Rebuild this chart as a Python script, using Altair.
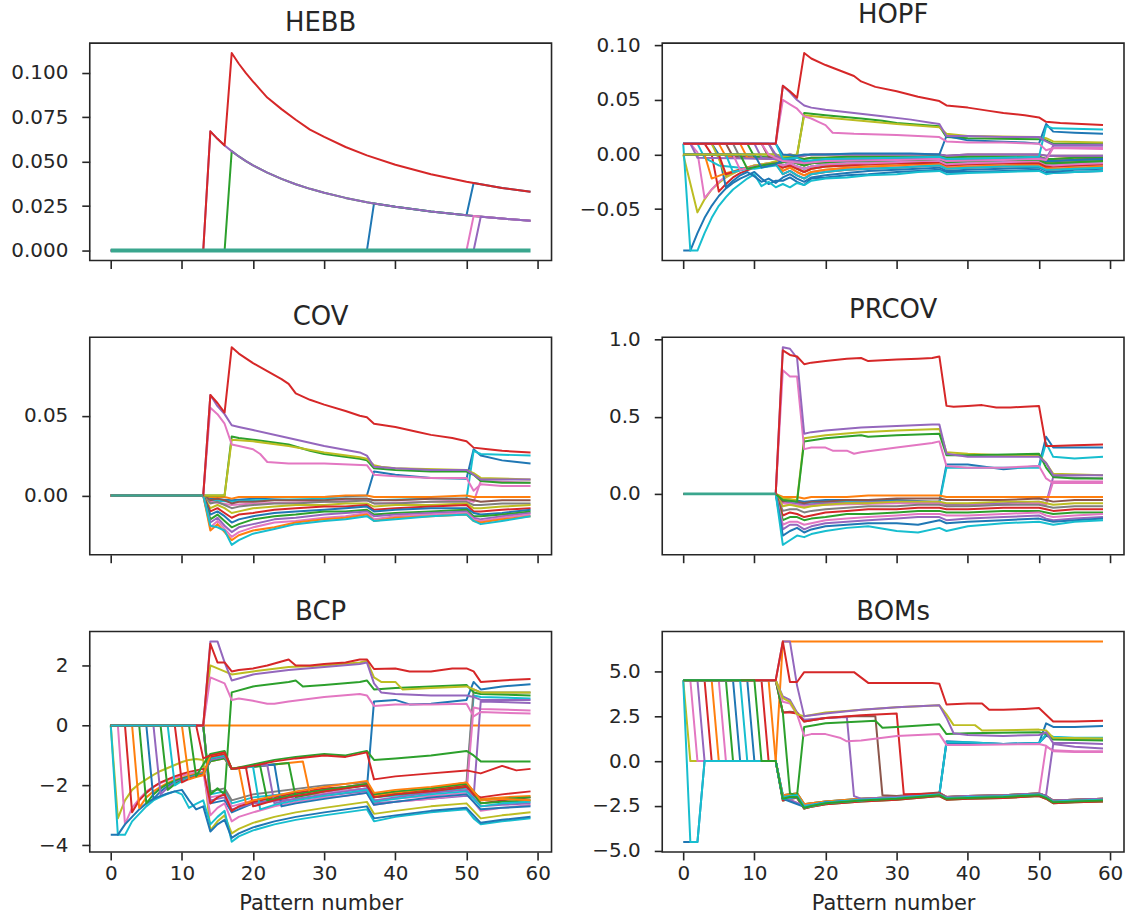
import altair as alt
import pandas as pd

# matplotlib "tab10" cycle
C0, C1, C2, C3, C4 = "#1f77b4", "#ff7f0e", "#2ca02c", "#d62728", "#9467bd"
C5, C6, C7, C8, C9 = "#8c564b", "#e377c2", "#7f7f7f", "#bcbd22", "#17becf"
TEAL = "#3aa68e"
LW = 2.0

XTICKS = [0, 10, 20, 30, 40, 50, 60]
ALL_STEPS = list(range(14))  # pattern 0..13

# ---------------------------------------------------------------- HEBB
HEBB = [
    (C0, [0, 36, 37, 40, 45, 50, 51, 55, 59],
         [0, 0, 0.0265, 0.0246, 0.0219, 0.0198, 0.0380, 0.0352, 0.0330]),
    (C2, [0, 16, 17, 18, 19, 20, 22, 24, 26, 28, 30, 33, 36, 37, 40, 45, 50, 51, 55, 59],
         [0, 0, 0.0559, 0.0529, 0.0503, 0.0479, 0.0438, 0.0403, 0.0373, 0.0347, 0.0325,
          0.0296, 0.0272, 0.0265, 0.0246, 0.0219, 0.0198, 0.0194, 0.0180, 0.0168]),
    (C4, [0, 13, 14, 15, 16, 17, 18, 19, 20, 22, 24, 26, 28, 30, 33, 36, 37, 40, 45, 50, 51, 55, 59],
         [0, 0, 0.067, 0.0628, 0.0591, 0.0559, 0.0529, 0.0503, 0.0479, 0.0438, 0.0403, 0.0373,
          0.0347, 0.0325, 0.0296, 0.0272, 0.0265, 0.0246, 0.0219, 0.0198, 0.0194, 0.0180, 0.0168]),
    (C3, [0, 13, 14, 15, 16, 17, 18, 19, 20, 21, 22, 24, 26, 28, 30, 33, 36, 40, 45, 50, 55, 59],
         [0, 0, 0.067, 0.0628, 0.0591, 0.111, 0.105, 0.0997, 0.095, 0.0905, 0.086, 0.0795,
          0.0735, 0.068, 0.0639, 0.0582, 0.0535, 0.0482, 0.0429, 0.0387, 0.0352, 0.0330]),
    (C6, [0, 50, 51, 55, 59], [0, 0, 0.0194, 0.0180, 0.0168]),
    (C4, [0, 51, 52, 55, 59], [0, 0, 0.0190, 0.0180, 0.0168]),
    (TEAL, [0, 59], [0, 0], 4.0),
]

# ---------------------------------------------------------------- HOPF
HOPF_TX = [14, 15, 16, 17, 18, 20, 23, 26, 30, 33, 36, 37, 40, 45, 50, 51, 52, 55, 59]
HOPF_N1 = [-0.001, 0.0, -0.001, -0.001, 0.0, 0.0, 0.0, 0.0, 0.0, 0.0, 0.0, -0.001, 0.0, 0.0, 0.0, -0.001, -0.001, -0.001, -0.001]
HOPF_N2 = [-0.003, -0.002, -0.003, -0.004, -0.003, -0.003, -0.002, -0.002, -0.002, -0.002, -0.001, -0.003, -0.002, -0.002, -0.002, -0.004, -0.004, -0.003, -0.003]
HOPF_N3 = [-0.005, -0.004, -0.006, -0.007, -0.006, -0.005, -0.004, -0.004, -0.004, -0.003, -0.003, -0.005, -0.004, -0.004, -0.003, -0.006, -0.006, -0.005, -0.004]
HOPF_N4 = [-0.007, -0.006, -0.008, -0.010, -0.008, -0.007, -0.006, -0.006, -0.005, -0.005, -0.004, -0.007, -0.006, -0.005, -0.005, -0.008, -0.008, -0.007, -0.006]
HOPF_N5 = [-0.010, -0.008, -0.011, -0.013, -0.011, -0.009, -0.008, -0.008, -0.007, -0.006, -0.006, -0.009, -0.008, -0.007, -0.006, -0.009, -0.010, -0.009, -0.008]
HOPF_N6 = [-0.012, -0.010, -0.013, -0.016, -0.013, -0.011, -0.010, -0.009, -0.008, -0.008, -0.007, -0.010, -0.009, -0.008, -0.008, -0.011, -0.011, -0.010, -0.009]
HOPF_N7 = [-0.015, -0.012, -0.016, -0.019, -0.016, -0.014, -0.012, -0.011, -0.010, -0.009, -0.009, -0.012, -0.011, -0.010, -0.009, -0.012, -0.013, -0.012, -0.011]
HOPF_N8 = [-0.018, -0.015, -0.019, -0.022, -0.018, -0.016, -0.014, -0.013, -0.012, -0.011, -0.010, -0.013, -0.012, -0.011, -0.011, -0.014, -0.014, -0.013, -0.012]
HOPF_N9 = [-0.021, -0.018, -0.022, -0.025, -0.021, -0.019, -0.017, -0.015, -0.014, -0.013, -0.012, -0.015, -0.014, -0.013, -0.012, -0.015, -0.016, -0.014, -0.013]
HOPF_N10 = [-0.024, -0.021, -0.025, -0.028, -0.022, -0.021, -0.019, -0.018, -0.016, -0.015, -0.014, -0.016, -0.016, -0.015, -0.014, -0.017, -0.017, -0.016, -0.015]
HOPF_N11 = [-0.027, -0.030, -0.026, -0.028, -0.024, -0.022, -0.021, -0.019, -0.018, -0.016, -0.015, -0.018, -0.017, -0.016, -0.015, -0.018, -0.017, -0.016, -0.015]

HOPF = [
    (C0, ALL_STEPS + HOPF_TX,
         [-0.088, -0.088, -0.072, -0.058, -0.047, -0.038, -0.031, -0.026, -0.022, -0.019, -0.016, -0.022, -0.027, -0.024] + HOPF_N10),
    (C1, [0, 5, 6, 13] + HOPF_TX, [0.01, 0.01, -0.002, -0.004] + HOPF_N2),
    (C2, [0, 13, 14, 16, 17, 20, 25, 28, 30, 36, 37, 40, 50, 51, 52, 59],
         [0, 0, -0.002, -0.001, 0.038, 0.036, 0.033, 0.031, 0.029, 0.026, 0.016, 0.015, 0.014, 0.013, 0.010, 0.010]),
    (C5, [0, 6, 7, 13] + HOPF_TX, [0.01, 0.01, -0.002, -0.003] + HOPF_N1),
    (C8, [0, 2, 3, 4, 5, 6, 8, 10, 12, 13] + HOPF_TX,
         [0.0, -0.053, -0.041, -0.032, -0.026, -0.021, -0.014, -0.010, -0.008, -0.007] + HOPF_N6),
    (C9, ALL_STEPS + HOPF_TX,
         [0.01, -0.088, -0.088, -0.072, -0.058, -0.047, -0.039, -0.032, -0.027, -0.022, -0.018, -0.029, -0.025, -0.030] + HOPF_N11),
    (C7, [0, 7, 8, 13] + HOPF_TX, [0.01, 0.01, -0.003, -0.004] + HOPF_N3),
    (C1, [0, 8, 9, 13] + HOPF_TX, [0.01, 0.01, -0.003, -0.004] + HOPF_N4),
    (C6, [0, 1, 2, 3, 4, 5, 6, 8, 10, 12, 13] + HOPF_TX,
         [0.01, 0.01, 0.002, -0.040, -0.032, -0.025, -0.020, -0.014, -0.010, -0.008, -0.008] + HOPF_N7),
    (C3, [0, 3, 4, 5, 6, 7, 8, 10, 12, 13] + HOPF_TX,
         [0.01, 0.01, 0.0, -0.034, -0.027, -0.021, -0.017, -0.012, -0.009, -0.008] + HOPF_N8),
    (C2, [0, 9, 10, 13] + HOPF_TX, [0.01, 0.01, -0.002, -0.003] + HOPF_N2),
    (C0, [0, 4, 5, 6, 7, 8, 9, 10, 11, 12, 13] + HOPF_TX,
         [0.01, 0.01, 0.0, -0.030, -0.024, -0.019, -0.016, -0.020, -0.025, -0.022, -0.026] + HOPF_N9),
    (C4, [0, 10, 11, 13] + HOPF_TX, [0.01, 0.01, -0.003, -0.004] + HOPF_N5),
    (C5, [0, 11, 12, 13] + HOPF_TX, [0.01, 0.01, -0.002, -0.003] + HOPF_N3),
    (C7, [0, 12, 13] + HOPF_TX, [0.01, 0.01, -0.002] + HOPF_N4),
    (C8, [0, 4, 5, 6, 8, 10, 12, 13] + HOPF_TX,
         [0.01, 0.01, -0.004, -0.020, -0.014, -0.010, -0.008, -0.006] + HOPF_N6),
    (C4, [0, 1, 2, 13] + HOPF_TX, [0.01, 0.01, -0.003, -0.004] + HOPF_N1),
    (C9, [0, 2, 3, 5, 8, 10, 13] + HOPF_TX, [0.01, 0.01, -0.003, -0.010, -0.012, -0.013, -0.010] + HOPF_N5),
    # units sitting at zero that turn negative one after another
    (C1, [0, 3, 4, 6, 9, 13] + HOPF_TX, [0, 0, -0.022, -0.017, -0.012, -0.009] + HOPF_N7),
    (C3, [0, 5, 6, 8, 10, 13] + HOPF_TX, [0, 0, -0.018, -0.014, -0.011, -0.008] + HOPF_N6),
    (C9, [0, 6, 7, 9, 11, 13] + HOPF_TX, [0, 0, -0.016, -0.013, -0.011, -0.009] + HOPF_N8),
    (C6, [0, 7, 8, 10, 13] + HOPF_TX, [0, 0, -0.014, -0.011, -0.008] + HOPF_N5),
    (C2, [0, 8, 9, 11, 13] + HOPF_TX, [0, 0, -0.013, -0.010, -0.008] + HOPF_N4),
    (C0, [0, 10, 11, 13] + HOPF_TX, [0, 0, -0.012, -0.009] + HOPF_N3),
    (C8, [0, 13, 14, 16, 17, 20, 25, 30, 36, 37, 40, 50, 51, 52, 59],
         [0, 0, -0.002, 0.0, 0.036, 0.034, 0.031, 0.028, 0.025, 0.019, 0.017, 0.016, 0.015, 0.012, 0.011]),
    (C0, [0, 13, 14, 16, 17, 20, 24, 28, 32, 36, 37, 40, 44, 48, 50, 51, 52, 55, 59],
         [0.01, 0.01, 0.0, -0.001, 0.0, 0.0, 0.001, 0.001, 0.001, 0.0, 0.017, 0.013, 0.012, 0.011, 0.010, 0.028, 0.021, 0.020, 0.019]),
    (C4, [0, 12, 13, 14, 17, 20, 30, 36, 37, 45, 50, 51, 52, 59],
         [0.01, 0.01, 0.0, -0.005, -0.007, -0.005, -0.004, -0.003, -0.005, -0.004, -0.003, -0.004, 0.008, 0.008]),
    (C6, [0, 11, 12, 14, 17, 20, 30, 36, 37, 45, 50, 51, 52, 59],
         [0.01, 0.01, 0.0, -0.006, -0.008, -0.006, -0.005, -0.004, -0.006, -0.005, -0.004, -0.005, 0.006, 0.005]),
    (C9, [0, 13, 14, 16, 17, 20, 30, 36, 37, 45, 50, 51, 52, 59],
         [0.01, 0.01, -0.004, -0.003, -0.006, -0.004, -0.003, -0.002, -0.004, -0.003, -0.002, 0.026, 0.024, 0.023]),
    (C6, [0, 13, 14, 15, 16, 17, 18, 19, 20, 21, 24, 30, 36, 37, 40, 45, 50, 51, 52, 59],
         [0.01, 0.01, 0.050, 0.046, 0.042, 0.035, 0.033, 0.030, 0.027, 0.020, 0.019, 0.018, 0.016, 0.012, 0.011, 0.011, 0.010, 0.004, 0.006, 0.006]),
    (C4, [0, 13, 14, 15, 16, 17, 18, 20, 24, 28, 32, 35, 36, 37, 40, 45, 50, 51, 52, 55, 59],
         [0.01, 0.01, 0.063, 0.057, 0.050, 0.045, 0.043, 0.041, 0.038, 0.035, 0.032, 0.029, 0.028, 0.017, 0.017, 0.016, 0.016, 0.012, 0.009, 0.009, 0.009]),
    (C3, [0, 13, 14, 15, 16, 17, 18, 20, 22, 24, 25, 27, 30, 33, 36, 37, 40, 43, 45, 48, 50, 51, 53, 56, 59],
         [0.01, 0.01, 0.063, 0.058, 0.052, 0.093, 0.088, 0.082, 0.077, 0.072, 0.067, 0.062, 0.058, 0.053, 0.049,
          0.045, 0.043, 0.040, 0.038, 0.036, 0.034, 0.030, 0.029, 0.028, 0.027]),
]

# ---------------------------------------------------------------- COV
COV_TX = [13, 14, 15, 16, 17, 18, 20, 23, 26, 30, 33, 36, 37, 40, 45, 50, 51, 52, 55, 59]
COV_N = [
    [0, -0.001, -0.001, -0.001, -0.002, -0.001, -0.001, -0.001, -0.001, -0.001, 0.0, 0.0, -0.001, -0.001, -0.001, 0.0, -0.001, -0.001, -0.001, -0.001],
    [0, -0.003, -0.002, -0.003, -0.005, -0.004, -0.004, -0.003, -0.003, -0.003, -0.002, -0.002, -0.003, -0.003, -0.002, -0.002, -0.003, -0.004, -0.003, -0.003],
    [0, -0.005, -0.004, -0.006, -0.008, -0.007, -0.006, -0.005, -0.005, -0.004, -0.004, -0.003, -0.005, -0.005, -0.004, -0.004, -0.006, -0.006, -0.005, -0.005],
    [0, -0.008, -0.006, -0.008, -0.011, -0.010, -0.008, -0.007, -0.006, -0.006, -0.005, -0.005, -0.007, -0.006, -0.006, -0.005, -0.008, -0.008, -0.007, -0.006],
    [0, -0.010, -0.008, -0.011, -0.014, -0.012, -0.011, -0.009, -0.008, -0.007, -0.007, -0.006, -0.009, -0.008, -0.007, -0.006, -0.010, -0.010, -0.009, -0.008],
    [0, -0.012, -0.010, -0.013, -0.017, -0.015, -0.013, -0.011, -0.010, -0.009, -0.008, -0.007, -0.010, -0.009, -0.008, -0.008, -0.011, -0.012, -0.011, -0.009],
    [0, -0.015, -0.012, -0.016, -0.020, -0.018, -0.015, -0.013, -0.012, -0.010, -0.010, -0.009, -0.012, -0.011, -0.010, -0.009, -0.013, -0.013, -0.012, -0.010],
    [0, -0.017, -0.014, -0.019, -0.023, -0.020, -0.018, -0.015, -0.014, -0.012, -0.011, -0.010, -0.013, -0.012, -0.011, -0.010, -0.014, -0.015, -0.013, -0.011],
    [0, -0.020, -0.016, -0.021, -0.026, -0.023, -0.020, -0.017, -0.016, -0.014, -0.013, -0.011, -0.015, -0.013, -0.012, -0.011, -0.015, -0.016, -0.014, -0.012],
    [0, -0.022, -0.018, -0.023, -0.028, -0.025, -0.022, -0.020, -0.017, -0.015, -0.014, -0.012, -0.016, -0.014, -0.013, -0.012, -0.016, -0.017, -0.015, -0.013],
    [0, -0.019, -0.020, -0.022, -0.031, -0.028, -0.024, -0.021, -0.018, -0.016, -0.015, -0.013, -0.016, -0.015, -0.013, -0.012, -0.016, -0.018, -0.016, -0.013],
]
COV_NEG_COLORS = [C1, C5, C7, C8, C3, C0, C2, C4, C6, C1, C9]

COV_POS = [
    (C0, [0, 13, 14, 17, 20, 25, 30, 36, 37, 40, 45, 50, 51, 52, 55, 59],
         [0, 0, -0.002, -0.003, -0.002, -0.001, -0.001, 0.0, 0.015, 0.013, 0.011, 0.0105, 0.029, 0.025, 0.022, 0.020]),
    (C9, [0, 13, 14, 17, 20, 30, 36, 37, 45, 50, 51, 52, 59],
         [0, 0, -0.003, -0.004, -0.003, -0.002, -0.002, -0.003, -0.002, -0.002, 0.028, 0.026, 0.025]),
    (C6, [0, 13, 14, 17, 20, 30, 36, 37, 45, 50, 51, 52, 59],
         [0, 0, -0.004, -0.006, -0.005, -0.004, -0.003, -0.005, -0.004, -0.003, -0.004, 0.009, 0.008]),
    (C2, [0, 16, 17, 18, 20, 25, 28, 30, 35, 36, 37, 40, 45, 50, 51, 52, 55, 59],
         [0, 0, 0.037, 0.036, 0.035, 0.032, 0.028, 0.026, 0.023, 0.022, 0.017, 0.016, 0.015, 0.015, 0.013, 0.009, 0.008, 0.008]),
    (C8, [0, 16, 17, 20, 25, 30, 35, 36, 37, 38, 40, 50, 51, 52, 59],
         [0, 0, 0.035, 0.034, 0.031, 0.027, 0.024, 0.023, 0.019, 0.018, 0.017, 0.016, 0.014, 0.011, 0.010]),
    (C6, [0, 13, 14, 15, 16, 17, 18, 20, 21, 22, 25, 30, 36, 37, 40, 45, 50, 51, 52, 55, 59],
         [0, 0, 0.055, 0.051, 0.045, 0.032, 0.031, 0.029, 0.026, 0.021, 0.020, 0.020, 0.019, 0.013, 0.012, 0.011, 0.011, 0.003, 0.007, 0.006, 0.006]),
    (C4, [0, 13, 14, 15, 16, 17, 18, 20, 25, 30, 35, 36, 37, 40, 45, 50, 51, 52, 55, 59],
         [0, 0, 0.063, 0.056, 0.051, 0.044, 0.043, 0.041, 0.036, 0.031, 0.027, 0.025, 0.018, 0.017, 0.016, 0.016, 0.013, 0.010, 0.010, 0.010]),
    (C3, [0, 13, 14, 15, 16, 17, 18, 20, 22, 24, 25, 26, 28, 30, 33, 35, 36, 37, 40, 43, 45, 48, 50, 51, 53, 55, 59],
         [0, 0, 0.063, 0.058, 0.052, 0.093, 0.089, 0.083, 0.078, 0.073, 0.070, 0.064, 0.060, 0.057, 0.053, 0.050,
          0.049, 0.045, 0.043, 0.040, 0.038, 0.036, 0.034, 0.030, 0.029, 0.028, 0.027]),
]

# ---------------------------------------------------------------- PRCOV
PRCOV_N = [
    [0, -0.02, -0.02, -0.02, -0.03, -0.02, -0.02, -0.02, -0.01, -0.01, -0.01, -0.01, -0.02, -0.02, -0.02, -0.02, -0.02, -0.02, -0.02, -0.02],
    [0, -0.05, -0.04, -0.05, -0.06, -0.05, -0.05, -0.04, -0.04, -0.03, -0.03, -0.03, -0.04, -0.04, -0.04, -0.03, -0.04, -0.05, -0.04, -0.04],
    [0, -0.08, -0.07, -0.08, -0.09, -0.08, -0.07, -0.06, -0.06, -0.05, -0.05, -0.05, -0.06, -0.06, -0.05, -0.05, -0.06, -0.07, -0.06, -0.06],
    [0, -0.11, -0.10, -0.10, -0.12, -0.11, -0.10, -0.09, -0.08, -0.08, -0.07, -0.07, -0.08, -0.08, -0.07, -0.07, -0.08, -0.09, -0.08, -0.08],
    [0, -0.14, -0.12, -0.13, -0.15, -0.14, -0.12, -0.11, -0.10, -0.10, -0.09, -0.09, -0.10, -0.10, -0.09, -0.09, -0.10, -0.11, -0.10, -0.10],
    [0, -0.17, -0.15, -0.15, -0.17, -0.16, -0.15, -0.13, -0.13, -0.12, -0.11, -0.11, -0.12, -0.12, -0.11, -0.11, -0.12, -0.13, -0.12, -0.12],
    [0, -0.20, -0.18, -0.18, -0.20, -0.19, -0.17, -0.16, -0.15, -0.14, -0.13, -0.13, -0.14, -0.14, -0.13, -0.12, -0.14, -0.15, -0.14, -0.13],
    [0, -0.23, -0.20, -0.20, -0.23, -0.21, -0.19, -0.18, -0.17, -0.16, -0.15, -0.15, -0.17, -0.16, -0.15, -0.14, -0.16, -0.17, -0.16, -0.15],
    [0, -0.27, -0.24, -0.22, -0.25, -0.23, -0.21, -0.20, -0.19, -0.19, -0.20, -0.17, -0.19, -0.18, -0.17, -0.16, -0.17, -0.18, -0.17, -0.16],
    [0, -0.33, -0.30, -0.27, -0.28, -0.26, -0.24, -0.22, -0.21, -0.24, -0.25, -0.22, -0.24, -0.21, -0.19, -0.18, -0.19, -0.20, -0.18, -0.17],
]
PRCOV_NEG_COLORS = [C1, C5, C8, C7, C3, C2, C6, C4, C0, C9]

PRCOV_POS = [
    (C0, [0, 13, 14, 17, 20, 25, 30, 35, 36, 37, 40, 45, 50, 51, 52, 55, 59],
         [0, 0, -0.03, -0.05, -0.04, -0.04, -0.04, -0.05, -0.05, 0.19, 0.19, 0.16, 0.18, 0.37, 0.30, 0.30, 0.30]),
    (C9, [0, 13, 14, 17, 20, 30, 36, 37, 40, 50, 51, 52, 55, 59],
         [0, 0, -0.04, -0.06, -0.05, -0.05, -0.06, 0.17, 0.17, 0.17, 0.33, 0.24, 0.23, 0.24]),
    (C4, [0, 13, 14, 17, 20, 30, 36, 37, 45, 50, 51, 52, 59],
         [0, 0, -0.05, -0.07, -0.06, -0.05, -0.05, -0.07, -0.06, -0.05, -0.06, 0.11, 0.10]),
    (C6, [0, 13, 14, 17, 20, 30, 36, 37, 45, 50, 51, 52, 59],
         [0, 0, -0.06, -0.08, -0.07, -0.06, -0.06, -0.08, -0.07, -0.06, -0.07, 0.08, 0.08]),
    (C8, [0, 13, 14, 16, 17, 20, 25, 30, 36, 37, 40, 45, 50, 51, 52, 59],
         [0, 0, -0.03, -0.04, 0.36, 0.38, 0.40, 0.41, 0.42, 0.27, 0.26, 0.25, 0.25, 0.20, 0.13, 0.12]),
    (C2, [0, 13, 14, 16, 17, 20, 25, 26, 30, 36, 37, 40, 50, 51, 52, 55, 59],
         [0, 0, -0.04, -0.05, 0.34, 0.36, 0.38, 0.37, 0.38, 0.39, 0.25, 0.25, 0.26, 0.17, 0.11, 0.10, 0.10]),
    (C6, [0, 13, 14, 15, 16, 17, 18, 20, 21, 23, 24, 25, 30, 35, 36, 37, 40, 45, 50, 51, 52, 55, 59],
         [0, 0, 0.80, 0.76, 0.76, 0.29, 0.30, 0.30, 0.28, 0.28, 0.26, 0.27, 0.30, 0.33, 0.34, 0.18, 0.17, 0.17, 0.18, 0.10, 0.07, 0.07, 0.07]),
    (C4, [0, 13, 14, 15, 16, 17, 18, 20, 25, 30, 35, 36, 37, 40, 45, 50, 51, 52, 55, 59],
         [0, 0, 0.95, 0.94, 0.88, 0.39, 0.40, 0.41, 0.43, 0.44, 0.45, 0.45, 0.26, 0.24, 0.24, 0.24, 0.20, 0.12, 0.12, 0.12]),
    (C3, [0, 13, 14, 15, 16, 17, 18, 20, 23, 25, 26, 28, 30, 33, 35, 36, 37, 38, 40, 42, 44, 46, 48, 50, 51, 52, 55, 59],
         [0, 0, 0.93, 0.90, 0.89, 0.84, 0.85, 0.86, 0.875, 0.88, 0.86, 0.865, 0.87, 0.875, 0.88, 0.89,
          0.57, 0.565, 0.57, 0.575, 0.56, 0.56, 0.565, 0.57, 0.31, 0.31, 0.315, 0.32]),
]

# ---------------------------------------------------------------- BCP
BCP_TX = [14, 15, 16, 17, 18, 20, 23, 26, 30, 33, 36, 37, 40, 45, 50, 51, 52, 55, 59]
BCP_TOP = [
    (C0, [0, 13, 14, 16, 17, 20, 25, 30, 36, 37, 40, 42, 45, 50, 51, 52, 55, 59],
         [0, 0, -2.6, -2.5, -2.9, -2.6, -2.4, -2.25, -2.1, 0.8, 0.85, 0.7, 0.72, 0.85, 1.45, 1.2, 1.3, 1.37]),
    (C9, [0, 13, 14, 16, 17, 20, 30, 36, 37, 45, 50, 51, 52, 59],
         [0, 0, -2.3, -2.2, -2.6, -2.4, -2.15, -2.0, -2.4, -2.25, -2.1, 1.0, 0.95, 0.9]),
    (C7, [0, 13, 14, 16, 17, 20, 30, 36, 37, 45, 50, 51, 52, 59],
         [0, 0, -2.2, -2.1, -2.5, -2.3, -2.0, -1.9, -2.3, -2.1, -1.9, 1.2, 1.1, 1.1]),
    (C6, [0, 13, 14, 16, 17, 20, 30, 36, 37, 45, 50, 51, 52, 59],
         [0, 0, -2.4, -2.3, -2.7, -2.5, -2.25, -2.1, -2.5, -2.35, -2.25, 0.6, 0.55, 0.5]),
    (C4, [0, 13, 14, 16, 17, 20, 30, 36, 37, 45, 50, 51, 52, 59],
         [0, 0, -2.5, -2.4, -2.8, -2.6, -2.35, -2.2, -2.6, -2.45, -2.35, -2.4, 0.8, 0.75]),
    (C2, [0, 13, 14, 15, 16, 17, 20, 25, 26, 27, 30, 35, 36, 37, 40, 45, 50, 51, 52, 59],
         [0, 0, -2.3, -2.1, -2.3, 1.1, 1.3, 1.45, 1.5, 1.3, 1.35, 1.45, 1.5, 1.2, 1.25, 1.3, 1.35, 1.1, 1.05, 1.0]),
    (C8, [0, 13, 14, 15, 16, 17, 20, 25, 30, 35, 36, 37, 38, 40, 41, 45, 50, 51, 52, 59],
         [0, 0, 2.0, 1.9, 1.8, 1.7, 1.8, 1.95, 2.0, 2.1, 2.15, 1.6, 1.45, 1.45, 1.2, 1.25, 1.3, 1.2, 1.1, 1.1]),
    (C6, [0, 13, 14, 15, 16, 17, 18, 20, 22, 23, 25, 30, 35, 36, 37, 40, 45, 50, 51, 52, 55, 59],
         [0, 0, 1.6, 1.5, 1.4, 0.85, 0.9, 0.82, 0.72, 0.72, 0.8, 0.95, 1.05, 1.0, 0.65, 0.7, 0.7, 0.72, 0.3, 0.45, 0.42, 0.4]),
    (C4, [0, 13, 14, 15, 16, 17, 20, 25, 30, 35, 36, 37, 38, 40, 45, 50, 51, 52, 55, 59],
         [0, 0, 2.8, 2.8, 2.1, 1.5, 1.7, 1.85, 1.95, 2.05, 2.1, 1.4, 1.1, 1.05, 1.0, 1.0, 0.95, 0.85, 0.85, 0.85]),
    (C3, [0, 13, 14, 15, 16, 17, 18, 20, 22, 25, 26, 28, 30, 33, 35, 36, 37, 40, 42, 45, 48, 50, 51, 52, 55, 59],
         [0, 0, 2.72, 2.1, 2.1, 1.8, 1.85, 1.9, 2.0, 2.2, 2.0, 2.0, 2.05, 2.1, 2.2, 2.2, 1.88, 1.9, 1.8, 1.8, 1.9, 1.9, 1.8, 1.45, 1.5, 1.55]),
]
BCP_FAN = [
    (C8, ALL_STEPS + BCP_TX,
         [0, -3.1, -2.5, -2.15, -1.95, -1.8, -1.65, -1.52, -1.42, -1.32, -1.22, -1.15, -1.12, -1.15]
         + [-3.5, -3.2, -3.0, -3.6, -3.45, -3.25, -3.05, -2.9, -2.75, -2.65, -2.55, -2.95, -2.85, -2.7, -2.6, -2.85, -3.1, -3.0, -2.9]),
    (C6, ALL_STEPS + BCP_TX,
         [0, 0, -3.3, -2.75, -2.45, -2.2, -2.05, -1.92, -1.82, -1.75, -1.68, -1.62, -1.57, -1.55]
         + [-3.0, -2.75, -2.6, -3.2, -3.05, -2.9, -2.7, -2.55, -2.4, -2.35, -2.25, -2.65, -2.55, -2.45, -2.3, -2.55, -2.85, -2.75, -2.65]),
    (C9, ALL_STEPS + BCP_TX,
         [0, -3.65, -3.65, -3.2, -2.95, -2.7, -2.5, -2.38, -2.28, -2.2, -2.3, -2.75, -2.62, -2.5]
         + [-3.3, -3.05, -2.85, -3.88, -3.7, -3.5, -3.3, -3.15, -3.0, -2.9, -2.8, -3.2, -3.05, -2.9, -2.8, -3.1, -3.3, -3.2, -3.1]),
    (C0, ALL_STEPS + BCP_TX,
         [-3.65, -3.65, -3.3, -3.05, -2.8, -2.6, -2.45, -2.35, -2.27, -2.2, -2.15, -2.5, -2.8, -2.7]
         + [-3.54, -3.3, -3.15, -3.75, -3.6, -3.4, -3.2, -3.05, -2.9, -2.8, -2.7, -3.1, -3.0, -2.85, -2.75, -3.0, -3.25, -3.15, -3.05]),
    (C3, [0, 2, 3, 4, 5, 6, 7, 8, 9, 10, 11, 12, 13] + BCP_TX,
         [0, 0, -2.9, -2.5, -2.25, -2.05, -1.9, -1.8, -1.7, -1.62, -1.55, -1.5, -1.45]
         + [-2.6, -2.4, -2.3, -2.85, -2.7, -2.55, -2.4, -2.25, -2.1, -2.05, -1.95, -2.35, -2.25, -2.15, -2.0, -2.3, -2.6, -2.5, -2.4]),
    (C1, [0, 3, 4, 5, 6, 7, 8, 9, 10, 11, 12, 13, 14, 15, 16, 17, 18, 27, 28, 30, 33, 36, 37, 40, 45, 50, 51, 52, 55, 59],
         [0, 0, -2.75, -2.4, -2.2, -2.05, -1.92, -1.82, -1.75, -1.68, -1.62, -1.58,
          -1.2, -1.15, -1.1, -1.45, -1.42, -1.2, -2.3, -2.2, -2.05, -1.95, -2.35, -2.25, -2.1, -1.95, -2.2, -2.45, -2.4, -2.35]),
    (C2, [0, 4, 5, 6, 7, 8, 9, 10, 11, 12, 13, 14, 15, 16, 17, 18, 25, 26, 30, 33, 36, 37, 40, 45, 50, 51, 52, 55, 59],
         [0, 0, -2.6, -2.3, -2.1, -1.95, -1.85, -1.77, -1.7, -1.65, -1.6,
          -1.2, -1.15, -1.1, -1.45, -1.42, -1.25, -2.4, -2.2, -2.1, -2.0, -2.4, -2.3, -2.2, -2.05, -2.3, -2.6, -2.55, -2.5]),
    (C0, [0, 5, 6, 7, 8, 9, 10, 11, 12, 13, 14, 15, 16, 17, 18, 23, 24, 26, 30, 33, 36, 37, 40, 45, 50, 51, 52, 55, 59],
         [0, 0, -2.45, -2.2, -2.02, -1.9, -1.8, -1.72, -1.66, -1.62,
          -1.15, -1.1, -1.05, -1.45, -1.42, -1.3, -2.7, -2.6, -2.45, -2.35, -2.25, -2.65, -2.55, -2.4, -2.3, -2.55, -2.8, -2.75, -2.7]),
    (C4, [0, 6, 7, 8, 9, 10, 11, 12, 13, 14, 15, 16, 17, 18, 22, 23, 26, 30, 33, 36, 37, 40, 45, 50, 51, 52, 55, 59],
         [0, 0, -2.3, -2.08, -1.92, -1.82, -1.74, -1.68, -1.63,
          -1.15, -1.1, -1.05, -1.45, -1.42, -1.32, -2.6, -2.45, -2.3, -2.2, -2.1, -2.5, -2.4, -2.25, -2.15, -2.4, -2.7, -2.65, -2.6]),
    (C2, [0, 7, 8, 9, 10, 11, 12, 13, 14, 15, 16, 17, 18, 21, 22, 23, 26, 30, 33, 36, 37, 40, 45, 50, 51, 52, 55, 59],
         [0, 0, -2.15, -1.96, -1.84, -1.75, -1.68, -1.63,
          -1.1, -1.05, -1.0, -1.45, -1.42, -1.35, -2.5, -2.45, -2.3, -2.15, -2.05, -1.95, -2.3, -2.2, -2.1, -1.95, -2.2, -2.5, -2.45, -2.4]),
    (C9, [0, 8, 9, 10, 11, 12, 13, 14, 15, 16, 17, 18, 20, 21, 23, 26, 30, 33, 36, 37, 40, 45, 50, 51, 52, 55, 59],
         [0, 0, -2.0, -1.85, -1.75, -1.68, -1.62,
          -1.1, -1.05, -1.0, -1.45, -1.42, -1.38, -2.8, -2.65, -2.5, -2.35, -2.25, -2.15, -2.55, -2.45, -2.3, -2.2, -2.45, -2.7, -2.6, -2.55]),
    (C3, [0, 9, 10, 11, 12, 13, 14, 15, 16, 17, 18, 19, 20, 23, 26, 30, 33, 36, 37, 40, 45, 50, 51, 52, 55, 59],
         [0, 0, -1.9, -1.78, -1.7, -1.64,
          -1.05, -1.0, -0.95, -1.45, -1.42, -1.4, -2.7, -2.5, -2.35, -2.2, -2.1, -2.0, -2.4, -2.3, -2.2, -2.05, -2.3, -2.4, -2.3, -2.2]),
    (C1, [0, 10, 11, 12, 13, 14, 15, 16, 17, 18, 19, 20, 23, 26, 30, 33, 36, 37, 40, 45, 50, 51, 52, 55, 59],
         [0, 0, -1.8, -1.72, -1.66,
          -1.0, -0.95, -0.9, -1.45, -1.4, -2.6, -2.5, -2.35, -2.2, -2.05, -1.95, -1.85, -2.25, -2.15, -2.05, -1.9, -2.2, -2.5, -2.45, -2.5]),
    (C2, [0, 11, 12, 13] + BCP_TX,
         [0, 0, -1.7, -1.3]
         + [-0.95, -0.9, -0.85, -1.45, -1.4, -1.3, -1.15, -1.05, -0.95, -1.0, -0.85, -1.15, -1.1, -1.0, -0.85, -1.0, -1.2, -1.2, -1.2]),
    (C3, [0, 12, 13, 14, 15, 16, 17, 18, 20, 23, 26, 30, 33, 36, 37, 40, 45, 50, 51, 52, 55, 57, 59],
         [0, 0, -1.1,
          -1.0, -0.95, -0.9, -1.45, -1.42, -1.35, -1.2, -1.1, -1.0, -1.05, -0.9, -1.8, -1.7, -1.6, -1.5, -1.55, -1.6, -1.35, -1.5, -1.45]),
]
BCP = [(C1, [0, 59], [0, 0])] + BCP_TOP + BCP_FAN + [(C9, [0, 12], [0, 0])]

# ---------------------------------------------------------------- BOMs
BOMS_TX = [14, 15, 16, 17, 18, 20, 25, 30, 36, 37, 40, 45, 50, 51, 52, 55, 59]
BOMS_M1 = [-1.9, -1.85, -1.8, -2.4, -2.35, -2.25, -2.1, -2.0, -1.8, -2.0, -1.95, -1.9, -1.8, -1.95, -2.2, -2.15, -2.1]
BOMS_M2 = [-2.0, -1.95, -1.9, -2.5, -2.45, -2.3, -2.15, -2.05, -1.85, -2.05, -2.0, -1.95, -1.85, -2.0, -2.25, -2.2, -2.15]
BOMS_M3 = [-2.1, -2.0, -2.0, -2.6, -2.5, -2.35, -2.2, -2.1, -1.9, -2.1, -2.05, -2.0, -1.9, -2.05, -2.3, -2.25, -2.2]
BOMS_M4 = [-2.2, -2.1, -2.05, -2.65, -2.55, -2.4, -2.25, -2.15, -1.95, -2.15, -2.1, -2.05, -1.95, -2.1, -2.35, -2.3, -2.25]

BOMS = [
    (C8, [0, 1, 13] + BOMS_TX, [4.5, 0, 0] + BOMS_M1),
    (C6, [0, 1, 2, 13] + BOMS_TX, [4.5, 4.5, 0, 0] + BOMS_M2),
    (C3, [0, 3, 4, 13] + BOMS_TX, [4.5, 4.5, 0, 0] + BOMS_M3),
    (C2, [0, 6, 7, 13] + BOMS_TX, [4.5, 4.5, 0, 0] + BOMS_M4),
    (C0, [0, 7, 8, 13] + BOMS_TX, [4.5, 4.5, 0, 0] + BOMS_M1),
    (C3, [0, 11, 12, 13] + BOMS_TX, [4.5, 4.5, 0, 0] + BOMS_M4),
    (C1, [0, 12, 13] + BOMS_TX, [4.5, 4.5, 0] + BOMS_M1),
    (C1, [0, 4, 5, 13, 14, 59], [4.5, 4.5, 0, 0, 6.65, 6.65]),
    (C6, [0, 5, 6, 13, 14, 17, 20, 30, 36, 37, 45, 50, 51, 52, 55, 59],
         [4.5, 4.5, 0, 0, -2.0, -2.5, -2.3, -2.05, -1.85, -2.05, -1.95, -1.85, 0.8, 0.6, 0.55, 0.55]),
    (C4, [0, 2, 3, 13, 14, 17, 20, 30, 36, 37, 45, 50, 51, 52, 55, 59],
         [4.5, 4.5, 0, 0, -2.0, -2.5, -2.3, -2.05, -1.85, -2.05, -1.95, -1.85, -1.9, 0.95, 0.8, 0.7]),
    (C0, [0, 9, 10, 13, 14, 17, 20, 30, 36, 37, 40, 45, 50, 51, 52, 55, 59],
         [4.5, 4.5, 0, 0, -2.1, -2.55, -2.3, -2.05, -1.85, 1.1, 1.05, 0.95, 1.0, 1.4, 1.3, 1.2, 1.2]),
    (C0, [0, 2, 3, 13, 14, 16, 17, 20, 30, 36, 37, 40, 45, 50, 51, 52, 55, 59],
         [-4.5, -4.5, 0, 0, -2.1, -2.0, -2.55, -2.3, -2.05, -1.85, 1.0, 1.0, 0.95, 1.0, 2.1, 1.9, 1.9, 1.95]),
    (C9, [0, 1, 2, 3, 13, 14, 16, 17, 20, 30, 36, 37, 40, 45, 50, 51, 52, 55, 59],
         [4.5, -4.5, -4.5, 0, 0, -2.1, -2.0, -2.6, -2.35, -2.05, -1.85, 1.05, 1.05, 0.95, 1.0, 1.5, 1.35, 1.3, 1.3]),
    (C5, [0, 13, 14, 15, 16, 17, 20, 24, 27, 28, 30, 36, 37, 40, 45, 50, 51, 52, 55, 59],
         [4.5, 4.5, 2.7, 2.75, 2.7, 2.2, 2.4, 2.5, 2.5, -1.9, -1.95, -1.75, -2.0, -1.95, -1.9, -1.8, -1.95, -2.2, -2.15, -2.1]),
    (C4, [0, 13, 14, 15, 16, 17, 20, 23, 24, 25, 30, 36, 37, 40, 45, 50, 51, 52, 55, 59],
         [4.5, 4.5, 3.6, 3.4, 2.7, 2.3, 2.4, 2.45, -1.95, -2.1, -2.0, -1.8, -2.0, -1.95, -1.9, -1.8, -1.95, -2.2, -2.15, -2.1]),
    (C3, [0, 13, 14, 15, 16, 17, 20, 25, 30, 31, 36, 37, 40, 45, 50, 51, 52, 55, 59],
         [4.5, 4.5, 2.7, 2.7, 2.65, 2.2, 2.4, 2.55, 2.65, -1.85, -1.8, -2.05, -2.0, -1.95, -1.85, -2.0, -2.25, -2.2, -2.15]),
    (C2, [0, 13, 14, 15, 16, 17, 20, 25, 27, 28, 30, 36, 37, 40, 50, 51, 52, 59],
         [4.5, 4.5, 2.7, -1.8, -1.9, 1.9, 2.1, 2.2, 2.25, 1.85, 1.9, 2.05, 1.5, 1.55, 1.6, 1.5, 1.2, 1.15]),
    (C6, [0, 13, 14, 15, 16, 17, 18, 20, 22, 23, 25, 30, 36, 37, 40, 50, 51, 52, 55, 59],
         [4.5, 4.5, 3.3, 3.2, 2.6, 1.4, 1.5, 1.5, 1.3, 1.1, 1.15, 1.4, 1.5, 0.9, 0.9, 0.95, 0.85, 0.55, 0.5, 0.5]),
    (C8, [0, 13, 14, 15, 16, 17, 20, 30, 36, 37, 38, 41, 42, 50, 51, 52, 59],
         [4.5, 4.5, 3.5, 3.3, 2.6, 2.5, 2.7, 3.0, 3.1, 2.6, 2.0, 2.0, 1.7, 1.75, 1.7, 1.3, 1.25]),
    (C4, [0, 13, 14, 15, 16, 17, 20, 25, 30, 36, 37, 38, 40, 45, 50, 51, 52, 55, 59],
         [4.5, 4.5, 6.65, 6.65, 4.2, 2.5, 2.65, 2.85, 3.0, 3.1, 2.4, 1.55, 1.45, 1.4, 1.45, 1.6, 1.0, 1.0, 0.95]),
    (C3, [0, 13, 14, 15, 16, 17, 20, 24, 26, 30, 35, 36, 37, 40, 42, 43, 45, 48, 50, 52, 55, 59],
         [4.5, 4.5, 6.65, 4.4, 4.4, 4.95, 4.95, 4.95, 4.35, 4.35, 4.35, 4.3, 3.15, 3.2, 3.2, 2.85, 2.85, 2.9, 2.95, 2.2, 2.2, 2.25]),
    (C9, [0, 8, 9, 13] + BOMS_TX, [4.5, 4.5, 0, 0] + BOMS_M2),
    (C2, [0, 10, 11, 13] + BOMS_TX, [4.5, 4.5, 0, 0] + BOMS_M3),
]


def to_frame(series):
    rows = []
    for i, s in enumerate(series):
        color, xs, ys = s[0], s[1], s[2]
        width = s[3] if len(s) > 3 else LW
        for x, y in zip(xs, ys, strict=True):
            rows.append({"sid": f"s{i:03d}", "x": x, "y": y, "c": color, "w": width})
    return pd.DataFrame(rows)


COV = COV_POS[:3] + [(col, [0] + COV_TX, [0] + tail) for col, tail in zip(COV_NEG_COLORS, COV_N)] \
    + COV_POS[3:] + [(TEAL, [0, 13], [0, 0], 2.6)]
PRCOV = PRCOV_POS[:4] + [(col, [0] + COV_TX, [0] + tail) for col, tail in zip(PRCOV_NEG_COLORS, PRCOV_N)] \
    + PRCOV_POS[4:] + [(TEAL, [0, 13], [0, 0], 2.6)]

PANELS = [
    ("HEBB", HEBB, [-0.0056, 0.1166], [0, 0.025, 0.05, 0.075, 0.1], ".3f", False),
    ("HOPF", HOPF, [-0.0971, 0.1021], [-0.05, 0, 0.05, 0.1], ".2f", False),
    ("COV", COV, [-0.0372, 0.0992], [0, 0.05], ".2f", False),
    ("PRCOV", PRCOV, [-0.394, 1.014], [0, 0.5, 1.0], ".1f", False),
    ("BCP", BCP, [-4.22, 3.13], [-4, -2, 0, 2], "d", True),
    ("BOMs", BOMS, [-5.06, 7.21], [-5, -2.5, 0, 2.5, 5], ".1f", True),
]


def panel(title, series, ydom, yticks, yfmt, bottom):
    if bottom:
        xaxis = alt.Axis(values=XTICKS, format="d", title="Pattern number", grid=False, labelPadding=4)
    else:
        xaxis = alt.Axis(values=XTICKS, labels=False, title=None, grid=False)
    return (
        alt.Chart(to_frame(series))
        .mark_line(strokeJoin="round", clip=True)
        .encode(
            x=alt.X("x:Q", scale=alt.Scale(domain=[-2.95, 61.95], nice=False, zero=False), axis=xaxis),
            y=alt.Y("y:Q", scale=alt.Scale(domain=ydom, nice=False, zero=False),
                    axis=alt.Axis(values=yticks, format=yfmt, title=None, grid=False, labelPadding=14)),
            color=alt.Color("c:N", scale=None),
            strokeWidth=alt.StrokeWidth("w:Q", scale=None),
            detail="sid:N",
        )
        .properties(width=463, height=221 if bottom else 218, title=title)
    )


chart = (
    alt.concat(*[panel(*p) for p in PANELS], columns=2, spacing={"row": 77, "column": 111}, bounds="flush")
    .properties(padding={"left": 9, "top": 0, "right": 0, "bottom": 0}, background="white")
    .configure_view(stroke="#262626", strokeWidth=1.6)
    .configure_axis(
        domain=False, tickColor="#262626", tickSize=8, tickWidth=1.6,
        labelFont="DejaVu Sans", labelFontSize=20, labelColor="#262626",
        titleFont="DejaVu Sans", titleFontSize=21, titleFontWeight="normal", titleColor="#262626", titlePadding=9,
    )
    .configure_title(font="DejaVu Sans", fontSize=26, fontWeight="normal", color="#262626", offset=7)
)

chart.save("out.html", embed_options={"renderer": "svg", "actions": False})
